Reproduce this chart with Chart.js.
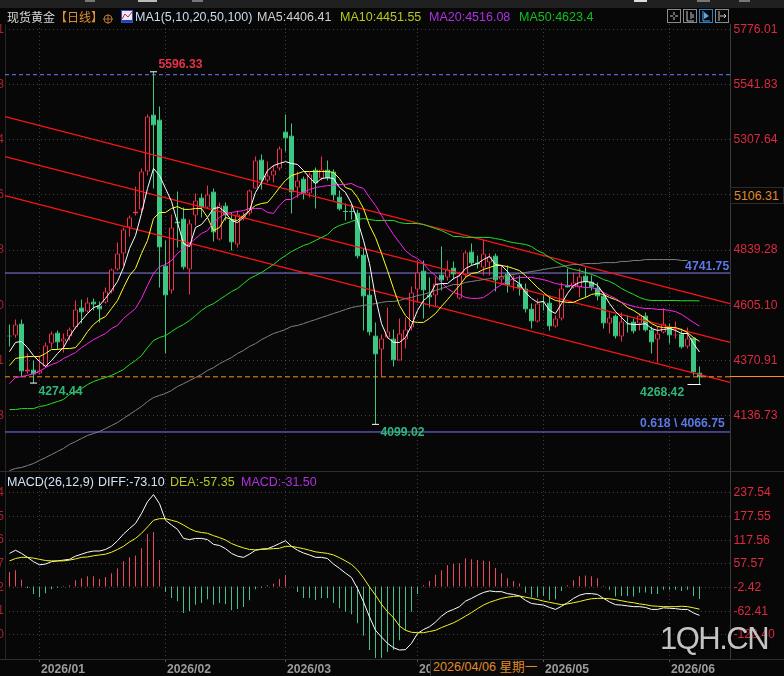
<!DOCTYPE html>
<html>
<head>
<meta charset="utf-8">
<title>现货黄金 日线</title>
<script src="https://cdn.jsdelivr.net/npm/chart.js"></script>
<style>
html, body { margin: 0; padding: 0; background: #070707; }
body { width: 784px; height: 676px; position: relative; overflow: hidden; font-family: "Liberation Sans", Arial, sans-serif; }
canvas { position: absolute; left: 0; }
.txt { position: absolute; font-size: 12.5px; line-height: 14px; white-space: nowrap; }
#topStrip { position: absolute; left: 0; top: 0; width: 784px; height: 8px; background: #202020; }
.stub { position: absolute; top: 0; height: 2px; }
.rule { position: absolute; left: 0; width: 784px; height: 1px; background: #2e2e2e; }
#priceBox { position: absolute; left: 730px; top: 187px; width: 54px; height: 17px; border: 1px solid #2c2c2c; box-sizing: border-box; background: #070707; color: #e08a2a; font-size: 12.4px; line-height: 16px; padding-left: 3px; }
#lastLine { position: absolute; left: 730px; top: 376px; width: 54px; height: 1px; background: #ff9020; }
#dateBox { position: absolute; left: 430px; top: 660px; width: 110px; height: 16px; background: #0a0a0a; border-left: 1px solid #333; color: #e08a2a; font-size: 12.6px; line-height: 15px; padding-left: 2px; box-sizing: border-box; font-family: "Liberation Sans", "Noto Sans CJK SC", sans-serif; }
#mark { position: absolute; left: 660px; top: 621px; font-size: 31px; line-height: 36px; letter-spacing: -1.5px; color: #c4c4c4; text-shadow: 1px 1px 2px rgba(0,0,0,.7); }
.tool { position: absolute; top: 9px; }
</style>
</head>
<body>
<div id="topStrip"></div>
<div class="stub" style="left:85px;width:10px;background:#777"></div>
<div class="stub" style="left:138px;width:19px;background:#bbb"></div>
<div class="stub" style="left:192px;width:11px;background:#777"></div>
<div class="stub" style="left:634px;width:13px;background:#ddd"></div>
<div class="stub" style="left:697px;width:13px;background:#777"></div>
<div class="stub" style="left:739px;width:11px;background:#777"></div>
<canvas id="priceChart" width="784" height="471" style="top:0"></canvas>
<canvas id="macdChart" width="784" height="205" style="top:471px"></canvas>
<div class="rule" style="top:471px"></div>
<div class="rule" style="top:659px"></div>

<!-- 行情标题 -->
<div class="txt" style="left:7px;top:10px;color:#d8d8d8;font-family:'Noto Sans CJK SC';font-size:12px">现货黄金<span style="color:#e09030">【日线】</span></div>
<svg style="position:absolute;left:102px;top:13px" width="12" height="12"><circle cx="6" cy="6" r="4" fill="none" stroke="#b87030"/><path d="M1 6H11M6 1V11" stroke="#b87030"/></svg>
<svg style="position:absolute;left:121px;top:10px" width="12" height="13"><rect x="0.5" y="0.5" width="11" height="12" fill="#e8e8f8" stroke="#3050c0"/><path d="M1 9L4 4L7 7L11 2" fill="none" stroke="#e02020"/><rect x="1" y="10" width="10" height="2" fill="#2040c0"/></svg>
<div class="txt" style="left:135px;top:10px;color:#c8dcf0">MA1(5,10,20,50,100)</div>
<div class="txt" style="left:257px;top:10px;color:#d0d0d0">MA5:4406.41</div>
<div class="txt" style="left:340px;top:10px;color:#b8c820">MA10:4451.55</div>
<div class="txt" style="left:429px;top:10px;color:#b030e0">MA20:4516.08</div>
<div class="txt" style="left:519px;top:10px;color:#10c020">MA50:4623.4</div>

<!-- 工具按钮 -->
<svg class="tool" style="left:667px" width="14" height="14"><rect x="0.5" y="0.5" width="13" height="13" fill="none" stroke="#8a8a8a"/><path d="M7 3V6M7 8V11M3 7H6M8 7H11" stroke="#c8c8c8"/></svg>
<svg class="tool" style="left:683px" width="14" height="14"><rect x="0.5" y="0.5" width="13" height="13" fill="none" stroke="#8a8a8a"/><path d="M4 2V12H11M8 3V10M10 5V9" stroke="#c8c8c8" fill="none"/></svg>
<svg class="tool" style="left:699px" width="14" height="14"><rect x="0.5" y="0.5" width="13" height="13" fill="none" stroke="#2080d0"/><path d="M4 2V12H11" stroke="#58a8e8" fill="none"/><path d="M5 3L10 7L5 10Z" fill="#58a8e8"/></svg>
<svg class="tool" style="left:715px" width="14" height="14"><rect x="0.5" y="0.5" width="13" height="13" fill="none" stroke="#8a8a8a"/><path d="M4 2V12M5 7H11M9 5L11 7L9 9" stroke="#c8c8c8" fill="none"/></svg>

<div id="priceBox">5106.31</div>
<div id="lastLine"></div>

<!-- MACD 标题 -->
<div class="txt" style="left:7px;top:475px;color:#d0e4f8">MACD(26,12,9)</div>
<div class="txt" style="left:98px;top:475px;color:#d0e4f8">DIFF:-73.10</div>
<div class="txt" style="left:170px;top:475px;color:#b8c820">DEA:-57.35</div>
<div class="txt" style="left:241px;top:475px;color:#b030e0">MACD:-31.50</div>

<div id="dateBox">2026/04/06 星期一</div>
<div id="mark">1QH.CN</div>

<script>
// ------------------------
// K线
// ------------------------
const opens = [
  4476,4476,4527,4324,4332,4315,4345,4442,4489,4451,
  4472,4510,4595,4578,4621,4604,4617,4663,4757,4825,
  4935,4995,5012,5173,5415,5394,4774,4668,4961,4973,
  4757,4986,5063,5020,5088,4884,5029,4969,4863,4973,
  4995,5101,5224,5135,5156,5186,5343,5326,5105,5143,
  5080,5181,5143,5181,5173,5067,5003,5003,4999,4820,
  4651,4476,4417,4468,4464,4370,4459,4510,4672,4752,
  4651,4646,4736,4723,4765,4634,4736,4833,4786,4765,
  4786,4816,4714,4740,4693,4697,4676,4591,4536,4621,
  4617,4515,4549,4689,4680,4680,4731,4706,4680,4646,
  4527,4561,4472,4527,4536,4527,4561,4502,4459,4489,
  4515,4476,4485,4430,4468,4319
];
const closes = [
  4472,4523,4324,4332,4311,4328,4434,4485,4447,4464,
  4502,4587,4574,4617,4608,4587,4663,4757,4825,4927,
  4978,5003,5173,5406,5368,4850,4646,4935,4952,4765,
  4952,5050,5020,5075,4914,5029,4986,4871,4990,4986,
  5092,5220,5135,5156,5177,5271,5313,5084,5135,5080,
  5160,5122,5181,5143,5071,5012,5001,5001,4812,4642,
  4489,4396,4464,4493,4370,4485,4502,4659,4744,4668,
  4638,4697,4710,4757,4736,4731,4829,4782,4778,4825,
  4812,4710,4727,4689,4697,4676,4587,4536,4612,4617,
  4515,4549,4676,4680,4702,4727,4702,4680,4642,4527,
  4553,4472,4536,4523,4493,4561,4498,4447,4485,4527,
  4476,4481,4425,4464,4319,4298
];
const highs = [
  4523,4544,4544,4400,4370,4391,4447,4493,4498,4485,
  4510,4625,4629,4638,4634,4621,4680,4761,4871,4935,
  4986,5109,5186,5415,5596.33,5449,4880,4990,5088,5020,
  4969,5080,5080,5113,5101,5041,5041,4999,5007,4999,
  5096,5237,5245,5215,5198,5279,5415,5377,5173,5152,
  5169,5190,5237,5220,5181,5092,5037,5037,5010,4846,
  4731,4532,4481,4595,4502,4549,4553,4685,4795,4795,
  4723,4727,4854,4795,4791,4744,4837,4867,4816,4884,
  4825,4825,4774,4774,4731,4731,4697,4612,4634,4651,
  4646,4561,4702,4761,4744,4761,4765,4731,4702,4659,
  4574,4566,4574,4561,4549,4570,4574,4515,4515,4591,
  4527,4536,4506,4510,4468,4345
];
const lows = [
  4430,4468,4302,4315,4274.44,4311,4340,4421,4417,4404,
  4455,4506,4527,4574,4583,4532,4612,4655,4752,4774,
  4897,4986,4995,5156,5101,4680,4400,4655,4850,4757,
  4651,4944,4978,5016,4876,4880,4965,4837,4850,4965,
  4986,5101,5096,5126,5126,5177,5258,4995,5063,5054,
  5063,5016,5135,5135,5050,5007,4965,4969,4803,4498,
  4476,4099.02,4302,4464,4345,4370,4421,4498,4617,4549,
  4595,4600,4668,4710,4714,4629,4723,4774,4761,4731,
  4731,4663,4697,4659,4668,4646,4574,4506,4532,4583,
  4498,4510,4540,4680,4676,4638,4638,4668,4625,4506,
  4485,4464,4451,4489,4485,4498,4493,4400,4362,4485,
  4442,4464,4421,4421,4307,4268.42
];

// ------------------------
// 均线
// ------------------------
const ma5 = [
  4408,4447,4451,4425,4391,4366,4345,4370,4400,4425,
  4472,4510,4540,4570,4595,4604,4634,4668,4706,4765,
  4846,4901,4995,5101,5186,5156,5101,5046,4956,4867,
  4854,4935,4948,4978,5016,5020,4999,4965,4956,4978,
  5007,5084,5126,5177,5198,5207,5215,5207,5203,5177,
  5147,5122,5143,5147,5143,5105,5084,5037,4965,4880,
  4782,4638,4527,4468,4447,4447,4468,4519,4583,4625,
  4646,4693,4697,4697,4718,4731,4761,4774,4782,4799,
  4812,4778,4774,4748,4714,4697,4659,4634,4617,4621,
  4583,4570,4612,4655,4689,4702,4706,4702,4689,4655,
  4612,4578,4553,4527,4523,4523,4527,4506,4498,4502,
  4506,4498,4485,4485,4442,4406.41
];
const ma10 = [
  4349,4379,4383,4387,4387,4387,4400,4417,4417,4421,
  4421,4425,4455,4493,4523,4544,4557,4591,4625,4680,
  4731,4761,4825,4880,4973,4999,4999,5016,5024,5012,
  5012,5016,5016,4978,4922,4935,4978,4969,4965,4986,
  5007,5029,5037,5041,5071,5105,5135,5156,5164,5173,
  5173,5173,5173,5173,5169,5143,5105,5096,5063,5016,
  4944,4893,4825,4752,4676,4604,4561,4536,4532,4532,
  4549,4570,4600,4629,4659,4689,4723,4740,4744,4757,
  4765,4774,4774,4769,4761,4752,4731,4706,4680,4659,
  4638,4625,4621,4617,4617,4629,4638,4651,4655,4651,
  4638,4629,4617,4595,4583,4566,4549,4527,4515,4510,
  4510,4510,4502,4489,4468,4451.55
];
const ma20 = [
  4272,4298,4302,4307,4315,4324,4340,4353,4362,4379,
  4391,4404,4425,4442,4459,4472,4485,4506,4519,4549,
  4570,4591,4634,4689,4740,4769,4778,4795,4825,4846,
  4867,4888,4910,4922,4956,4978,4995,4999,5003,5007,
  5016,5016,5016,4999,4995,5029,5054,5054,5071,5084,
  5096,5105,5109,5113,5113,5118,5118,5122,5109,5101,
  5063,5029,4986,4944,4905,4871,4837,4816,4803,4782,
  4752,4731,4702,4676,4659,4651,4638,4634,4634,4638,
  4655,4676,4693,4706,4718,4723,4723,4723,4718,4714,
  4706,4697,4693,4689,4689,4685,4680,4680,4672,4659,
  4646,4634,4617,4608,4600,4595,4591,4591,4587,4587,
  4583,4578,4566,4549,4532,4516.08
];
const ma50 = [
  4162,4162,4166,4166,4166,4175,4179,4188,4196,4205,
  4226,4239,4251,4268,4281,4290,4298,4307,4319,4332,
  4353,4370,4391,4425,4455,4468,4476,4493,4510,4523,
  4540,4561,4583,4600,4612,4629,4646,4663,4676,4697,
  4718,4731,4744,4761,4778,4799,4816,4833,4846,4859,
  4867,4880,4893,4905,4931,4944,4952,4961,4969,4973,
  4969,4965,4965,4965,4965,4956,4952,4952,4952,4948,
  4939,4931,4922,4910,4897,4897,4893,4893,4893,4893,
  4893,4888,4884,4876,4871,4867,4863,4854,4837,4825,
  4808,4791,4778,4765,4757,4752,4744,4736,4727,4714,
  4706,4693,4676,4663,4651,4638,4629,4625,4625,4625,
  4625,4625,4624,4624,4624,4623.4
];
const ma100 = [
  3903,3912,3916,3924,3933,3946,3958,3971,3984,3997,
  4014,4026,4039,4052,4060,4069,4081,4094,4107,4124,
  4141,4158,4175,4196,4213,4222,4230,4243,4260,4272,
  4285,4298,4311,4328,4340,4357,4370,4383,4400,4413,
  4430,4442,4459,4472,4485,4493,4502,4515,4519,4527,
  4536,4544,4553,4561,4570,4578,4587,4595,4600,4604,
  4608,4612,4617,4621,4621,4625,4634,4638,4646,4651,
  4659,4668,4676,4685,4693,4693,4702,4706,4710,4714,
  4718,4723,4727,4731,4736,4740,4744,4748,4752,4757,
  4761,4765,4769,4774,4778,4778,4782,4782,4782,4786,
  4786,4786,4791,4791,4795,4795,4799,4799,4799,4799,
  4799,4799,4795,4795
];

// 通道线两端价格, 水平线价位
const channelLeft = [5406.5, 5236.6, 5071];
const channelRight = [4612, 4447, 4277];
const fibUpper = 5584;
const fibMiddle = 4741.75;
const fibLower = 4066.75;
const lastPrice = 4301;

// ------------------------
// MACD
// ------------------------
const diff = [
  84,92,84,74,63,55,57,63,65,67,
  69,77,82,87,90,90,94,102,116,133,
  147,160,185,215,233,210,168,156,145,122,
  119,122,122,119,107,104,96,84,77,74,
  82,92,95,96,102,109,116,102,92,85,
  80,74,74,71,57,46,34,23,-5,-39,
  -77,-111,-128,-144,-155,-161,-160,-144,-119,-109,
  -102,-90,-75,-64,-58,-51,-37,-30,-22,-15,
  -11,-13,-13,-18,-20,-24,-35,-43,-45,-47,
  -53,-58,-50,-41,-30,-22,-18,-18,-20,-30,
  -39,-46,-47,-49,-51,-51,-53,-58,-58,-54,
  -55,-56,-58,-58,-67,-73.10
];
const dea = [
  65,71,74,74,72,69,66,65,65,65,
  67,70,74,75,78,80,82,87,94,102,
  113,122,135,151,168,172,172,168,164,156,
  147,140,137,135,129,124,118,109,103,98,
  94,93,94,95,96,97,102,102,99,96,
  92,88,86,84,80,73,65,56,42,22,
  -1,-22,-45,-64,-79,-100,-111,-116,-117,-117,
  -114,-111,-104,-98,-92,-84,-75,-66,-56,-47,
  -40,-35,-30,-27,-25,-24,-27,-30,-33,-37,
  -40,-43,-46,-44,-41,-38,-34,-31,-30,-30,
  -31,-33,-36,-39,-41,-44,-46,-49,-50,-51,
  -51,-51,-50,-51,-54,-57.35
];
const macdBars = [
  37,41,17,-4,-19,-27,-17,-7,-3,-1,
  3,16,21,26,26,19,24,34,46,64,
  74,79,97,133,138,67,-14,-29,-37,-67,
  -62,-46,-42,-32,-46,-42,-45,-60,-57,-52,
  -35,-7,-3,3,7,19,29,1,-14,-29,
  -29,-34,-29,-29,-42,-55,-64,-70,-93,-125,
  -161,-181,-181,-166,-161,-136,-111,-64,-19,3,
  14,30,41,54,58,59,72,69,67,66,
  64,47,34,21,14,8,-16,-28,-28,-24,
  -35,-32,-11,3,16,26,28,26,21,2,
  -8,-25,-24,-24,-25,-16,-15,-19,-19,-8,
  -8,-8,-11,-8,-24,-31.50
];

// ------------------------
// 刻度
// ------------------------
const monthIndex = [5, 26, 46, 68, 89, 110];
const monthLabels = ['2026/01', '2026/02', '2026/03', '2026/04', '2026/05', '2026/06'];
const priceTicks = [5776.01, 5541.83, 5307.64, 5073.46, 4839.28, 4605.10, 4370.91, 4136.73];
const macdTicks = [237.54, 177.55, 117.56, 57.57, -2.42, -62.41, -122.40];
const hiddenPriceTick = 5073.46; // 被十字光标价格框盖住

const RED = '#f5304f';
const GREEN = '#3cc882';
const BG = '#070707';
const GRID = 'rgba(120,120,120,0.5)';
const X_MIN = -0.75, X_MAX = 120.083;

const asPoints = arr => arr.map((v, i) => ({ x: i, y: v }));
const isUp = i => closes[i] >= opens[i];

function lineSet(data, color, order, extra) {
    return Object.assign({
        type: 'line', data: data, borderColor: color, borderWidth: 1,
        pointRadius: 0, tension: 0, order: order
    }, extra || {});
}

function hLine(value, color, order, dash) {
    return lineSet([{ x: X_MIN, y: value }, { x: X_MAX, y: value }], color, order, { borderDash: dash || [] });
}

function lowMark(points) {
    return {
        type: 'scatter', data: points, pointStyle: 'line', pointRadius: 3.5,
        pointBorderColor: '#ffffff', pointBorderWidth: 1, order: 0
    };
}

function fixedX(hideLabels) {
    return {
        type: 'linear', min: X_MIN, max: X_MAX, offset: false,
        afterBuildTicks: s => { s.ticks = monthIndex.map(v => ({ value: v })); },
        afterFit: s => {
            s.height = hideLabels ? 0 : 17;
            s.paddingLeft = 0; s.paddingRight = 0;
        },
        grid: { color: GRID, offset: false, drawTicks: !hideLabels, tickLength: 3, tickColor: '#555' },
        border: { display: false, dash: [1, 3] },
        ticks: {
            display: !hideLabels, autoSkip: false, maxRotation: 0, align: 'start', padding: 0, labelOffset: 1.5,
            color: '#9b9b9b', font: { family: 'Liberation Sans', size: 12.2, weight: 'bold' },
            callback: v => monthLabels[monthIndex.indexOf(v)]
        }
    };
}

function rightAxis(min, max, ticks, hidden) {
    return {
        position: 'right', min: min, max: max,
        afterBuildTicks: s => { s.ticks = ticks.map(v => ({ value: v })); },
        afterFit: s => { s.width = 54; s.paddingTop = 0; s.paddingBottom = 0; },
        grid: { color: GRID, drawTicks: false },
        border: { color: '#3a3a3a', dash: [1, 3] },
        ticks: {
            color: '#dc2a40', padding: 3.5, font: { family: 'Liberation Sans', size: 12.2 },
            autoSkip: false,
            callback: v => (v === hidden ? '' : v.toFixed(2))
        }
    };
}

// 左侧只露出半截数字
function leftAxis(min, max, ticks) {
    return {
        position: 'left', min: min, max: max,
        afterBuildTicks: s => { s.ticks = ticks.map(v => ({ value: v })); },
        afterFit: s => { s.width = 5; s.paddingTop = 0; s.paddingBottom = 0; },
        grid: { display: false, drawTicks: false },
        border: { color: '#262626' },
        ticks: {
            color: '#b02030', padding: 1, font: { family: 'Liberation Sans', size: 12 },
            autoSkip: false, callback: v => v.toFixed(2)
        }
    };
}

// ------------------------
// 高低点文字
// ------------------------
const noteTexts = ['5596.33', '4274.44', '4099.02', '4268.42', '0.618 \\ 4066.75', '4741.75'];
const noteIndex = [24, 4, 61, 105.1, 105.1, 112.6];
const notePrice = [5596.33, 4274.44, 4099.02, 4268.42, 4066.75, 4741.75];
const noteShift = [[5, -7], [5, 9], [5, 8], [0, 8], [0, -8], [0, -6]];
const noteColor = ['#e8304a', '#2fb678', '#2fb678', '#2fb678', '#5a78e8', '#5a78e8'];

const priceNotes = {
    id: 'priceNotes',
    afterDatasetsDraw(chart) {
        const { ctx, scales } = chart;
        ctx.save();
        ctx.font = 'bold 12.2px "Liberation Sans"';
        ctx.textBaseline = 'middle';
        noteTexts.forEach((t, i) => {
            ctx.fillStyle = noteColor[i];
            ctx.fillText(t, scales.x.getPixelForValue(noteIndex[i]) + noteShift[i][0],
                scales.y.getPixelForValue(notePrice[i]) + noteShift[i][1]);
        });
        ctx.restore();
    }
};

// ------------------------
// 主图
// ------------------------
const indexList = opens.map((_, i) => i);
const PRICE_MIN = 3901.0, PRICE_MAX = 5799.37;

new Chart(document.getElementById('priceChart'), {
    data: {
        datasets: [
            // 影线
            {
                type: 'bar', grouped: false, order: 6,
                data: indexList.map(i => ({ x: i, y: [lows[i], highs[i]] })),
                backgroundColor: indexList.map(i => (isUp(i) ? RED : GREEN)),
                maxBarThickness: 1, barPercentage: 1, categoryPercentage: 1, inflateAmount: 0
            },
            // 实体: 涨为空心, 跌为实心
            {
                type: 'bar', grouped: false, order: 5,
                data: indexList.map(i => ({ x: i, y: [opens[i], closes[i]] })),
                backgroundColor: indexList.map(i => (isUp(i) ? BG : GREEN)),
                borderColor: indexList.map(i => (isUp(i) ? RED : GREEN)),
                borderWidth: 1, borderSkipped: false, minBarLength: 1,
                maxBarThickness: 5, barPercentage: 1, categoryPercentage: 1, inflateAmount: 0
            },
            hLine(fibUpper, '#7a78ff', 7, [4, 3]),
            hLine(fibMiddle, '#8682e6', 7),
            hLine(fibLower, '#7a78ff', 7),
            hLine(lastPrice, '#ff9020', 4, [5, 3]),
            lineSet([{ x: X_MIN, y: channelLeft[0] }, { x: X_MAX, y: channelRight[0] }], '#ff1414', 4, { borderWidth: 1.2 }),
            lineSet([{ x: X_MIN, y: channelLeft[1] }, { x: X_MAX, y: channelRight[1] }], '#ff1414', 4, { borderWidth: 1.2 }),
            lineSet([{ x: X_MIN, y: channelLeft[2] }, { x: X_MAX, y: channelRight[2] }], '#ff1414', 4, { borderWidth: 1.2 }),
            lineSet(asPoints(ma100), '#808080', 3),
            lineSet(asPoints(ma50), '#24e024', 3),
            lineSet(asPoints(ma20), '#ff24f0', 2),
            lineSet(asPoints(ma10), '#ffff20', 2),
            lineSet(asPoints(ma5), '#ffffff', 1),
            lowMark([{ x: 24, y: 5596.33 }, { x: 4, y: 4274.44 }, { x: 61, y: 4099.02 }]),
            lineSet([{ x: 113, y: 4268.42 }, { x: 115.2, y: 4268.42 }], '#ffffff', 0)
        ]
    },
    options: {
        responsive: false, animation: false, events: [],
        layout: { padding: { top: 24 }, autoPadding: false },
        plugins: { legend: { display: false }, tooltip: { enabled: false } },
        scales: {
            x: fixedX(true),
            y: rightAxis(PRICE_MIN, PRICE_MAX, priceTicks, hiddenPriceTick),
            yL: leftAxis(PRICE_MIN, PRICE_MAX, priceTicks)
        }
    },
    plugins: [priceNotes]
});

// ------------------------
// 副图 MACD
// ------------------------
const MACD_MIN = -183.7, MACD_MAX = 292.9;

new Chart(document.getElementById('macdChart'), {
    data: {
        datasets: [
            {
                type: 'bar', grouped: false, order: 3,
                data: indexList.map(i => ({ x: i, y: [0, macdBars[i]] })),
                backgroundColor: macdBars.map(v => (v >= 0 ? '#ee4560' : '#46c08a')),
                maxBarThickness: 1, barPercentage: 1, categoryPercentage: 1, inflateAmount: 0
            },
            lineSet(asPoints(dea), '#f5f520', 1),
            lineSet(asPoints(diff), '#ffffff', 2)
        ]
    },
    options: {
        responsive: false, animation: false, events: [],
        layout: { padding: 0, autoPadding: false },
        plugins: { legend: { display: false }, tooltip: { enabled: false } },
        scales: {
            x: fixedX(false),
            y: rightAxis(MACD_MIN, MACD_MAX, macdTicks, null),
            yL: leftAxis(MACD_MIN, MACD_MAX, macdTicks)
        }
    }
});
</script>
</body>
</html>
